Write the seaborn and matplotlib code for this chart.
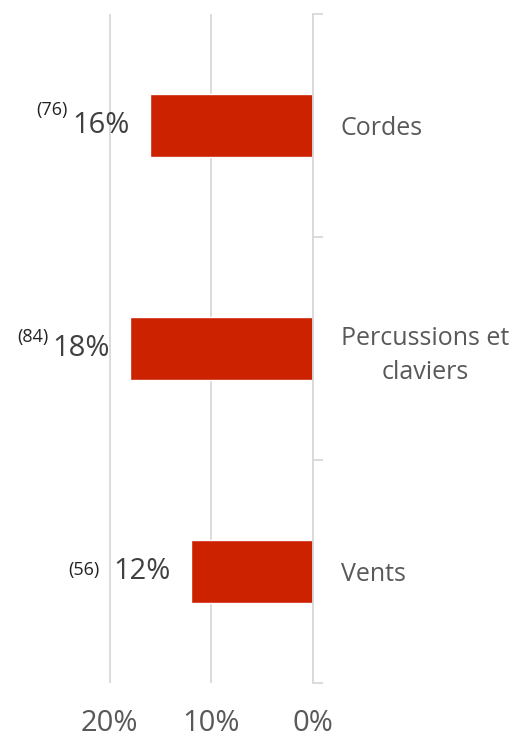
import seaborn as sns
import matplotlib.pyplot as plt
from matplotlib.ticker import FixedLocator

categories = ["Cordes", "Percussions et\nclaviers", "Vents"]
shares = [16, 18, 12]
counts = [76, 84, 56]
x_ticks = [0, 10, 20]

RED = "#CC2200"
GRID = "#D9D9D9"


def draw_chart():
    sns.set_style("white")
    plt.rcParams["font.family"] = ["Open Sans", "DejaVu Sans"]

    fig = plt.figure(figsize=(5.16, 7.37), dpi=100)
    ax = fig.add_axes([0.1143, 0.0733, 0.4923, 0.9077])

    sns.barplot(x=shares, y=categories, orient="h", color=RED,
                width=0.28, saturation=1, ax=ax)

    ax.set_xlim(25, 0)
    ax.set_ylim(2.5, -0.5)
    ax.set_xticks(x_ticks)
    ax.set_xticklabels([f"{t}%" for t in x_ticks])
    ax.grid(axis="x", color=GRID, linewidth=1.3)
    ax.set_axisbelow(True)
    ax.tick_params(axis="x", length=0, pad=19, labelsize=21, labelcolor="#595959")

    # category axis sits on the right (0%) side
    ax.yaxis.tick_right()
    ax.tick_params(axis="y", which="major", length=0, pad=20, labelsize=18,
                   labelcolor="#595959")
    for lbl in ax.get_yticklabels():
        lbl.set_horizontalalignment("left")
        lbl.set_multialignment("center")
        lbl.set_linespacing(1.45)
    ax.yaxis.set_minor_locator(FixedLocator([-0.5, 0.5, 1.5, 2.5]))
    ax.tick_params(axis="y", which="minor", right=True, length=7, width=1.3,
                   color=GRID)
    ax.set_xlabel("")
    ax.set_ylabel("")

    for side in ["top", "bottom", "left"]:
        ax.spines[side].set_visible(False)
    ax.spines["right"].set_color(GRID)
    ax.spines["right"].set_linewidth(1.3)

    # value labels with counts
    raise_pts = [11, 8, 1]
    gap_pts = [-4, -3, -10]
    for i, (v, n) in enumerate(zip(shares, counts)):
        t = ax.text(v + 2, i, f"{v}%", ha="right", va="center",
                    fontsize=21, color="#404040")
        ax.annotate(f"({n})", xy=(0, 0.5), xycoords=t,
                    xytext=(gap_pts[i], raise_pts[i]), textcoords="offset points",
                    ha="right", va="center", fontsize=13, color="#222222")

    fig.savefig("out.png", dpi=100)


def main():
    draw_chart()


if __name__ == "__main__":
    main()
